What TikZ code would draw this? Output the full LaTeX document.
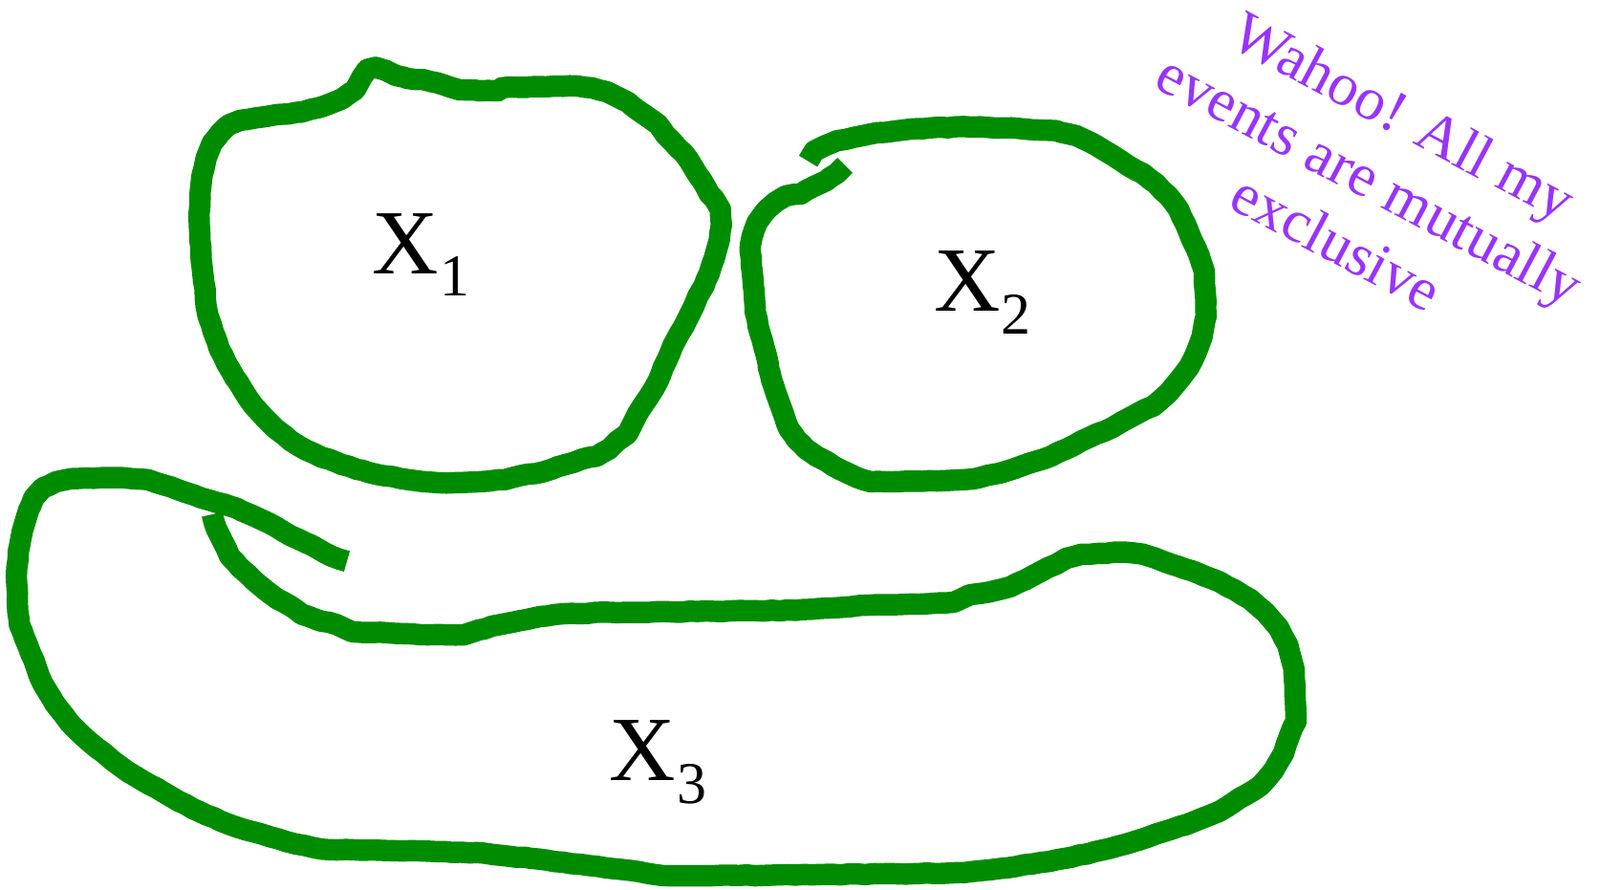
\documentclass[tikz,border=0pt]{standalone}
\usepackage{fontspec}
\setmainfont{Liberation Serif}
\usetikzlibrary{decorations.pathmorphing}
\definecolor{blobgreen}{RGB}{0,140,0}
\definecolor{wahoo}{RGB}{153,51,255}
\tikzset{
  blob/.style={draw=blobgreen, line width=21pt, line join=round, line cap=butt,
    decorate, decoration={random steps, segment length=8pt, amplitude=0.5pt}},
  setlabel/.style={anchor=base west, inner sep=0pt, font=\fontsize{90}{90}\selectfont},
  note/.style={text=wahoo, align=center, font=\fontsize{59}{70}\selectfont, rotate=-28, inner sep=0pt}
}
\newcommand{\setname}[1]{X\hspace{1pt}\raisebox{-22pt}{\fontsize{58}{58}\selectfont #1}}
\begin{document}
\begin{tikzpicture}[x=1pt,y=-1pt]
\useasboundingbox (0,0) rectangle (1568,872);
% X1
\draw[blob] (355,75) -- (360,68) -- (368,66) -- (378,69) -- (388,74) -- (400,77) -- (415,78) -- (428,81) -- (440,85) -- (450,88) -- (470,89) -- (488,89) -- (492,86) -- (520,85) -- (558,84) -- (580,86) -- (595,90) -- (605,95) -- (615,100) -- (625,108) -- (645,122) -- (652,132) -- (660,140) -- (670,150) -- (680,165) -- (688,177) -- (695,190) -- (700,195) -- (706,205) -- (707,220) -- (705,235) -- (700,253) -- (695,268) -- (690,280) -- (684,290) -- (680,300) -- (675,310) -- (670,320) -- (663,332) -- (657,345) -- (650,360) -- (645,373) -- (635,390) -- (625,405) -- (620,415) -- (615,425) -- (605,432) -- (597,440) -- (585,447) -- (570,450) -- (555,455) -- (540,460) -- (525,464) -- (510,466) -- (495,470) -- (470,472) -- (430,473) -- (400,470) -- (385,467) -- (370,465) -- (350,460) -- (330,453) -- (315,448) -- (300,441) -- (285,432) -- (270,420) -- (258,408) -- (248,397) -- (238,382) -- (230,370) -- (222,356) -- (215,342) -- (209,325) -- (204,310) -- (202,300) -- (201,283) -- (199,270) -- (197,250) -- (196,230) -- (195,210) -- (196,190) -- (198,172) -- (202,155) -- (208,140) -- (216,130) -- (225,122) -- (235,118) -- (255,115) -- (275,112) -- (295,110) -- (305,107) -- (320,103) -- (335,97) -- (348,88) -- cycle;
% X2
\draw[blob] (828,162) -- (820,170) -- (810,177) -- (797,183) -- (785,190) -- (770,192) -- (760,198) -- (750,207) -- (742,218) -- (737,232) -- (735,245) -- (737,265) -- (739,285) -- (740,305) -- (743,320) -- (747,333) -- (751,348) -- (753,360) -- (756,372) -- (760,384) -- (764,395) -- (768,406) -- (773,420) -- (780,430) -- (790,440) -- (800,447) -- (810,452) -- (823,460) -- (840,468) -- (853,472) -- (880,472) -- (910,471) -- (945,470) -- (960,468) -- (972,465) -- (985,462) -- (1000,457) -- (1015,452) -- (1030,447) -- (1045,440) -- (1060,432) -- (1075,425) -- (1090,419) -- (1100,413) -- (1115,405) -- (1130,398) -- (1145,385) -- (1155,373) -- (1165,360) -- (1172,346) -- (1178,330) -- (1182,310) -- (1181,285) -- (1180,265) -- (1175,250) -- (1168,235) -- (1162,220) -- (1155,205) -- (1145,192) -- (1133,180) -- (1120,170) -- (1105,162) -- (1090,152) -- (1075,143) -- (1055,133) -- (1035,128) -- (1000,126) -- (945,124) -- (900,126) -- (860,130) -- (845,133) -- (820,138) -- (808,143) -- (798,148) -- (792,158);
% X3
\draw[blob] (340,550) -- (325,545) -- (312,538) -- (300,532) -- (285,525) -- (270,516) -- (258,510) -- (245,504) -- (232,498) -- (220,494) -- (205,490) -- (190,485) -- (175,480) -- (160,475) -- (145,470) -- (120,468) -- (100,468) -- (70,469) -- (55,472) -- (42,478) -- (33,488) -- (28,500) -- (22,520) -- (18,540) -- (16,565) -- (17,590) -- (19,612) -- (24,625) -- (30,640) -- (36,655) -- (42,670) -- (50,683) -- (58,695) -- (68,708) -- (80,720) -- (95,733) -- (110,745) -- (125,756) -- (140,765) -- (158,775) -- (175,785) -- (195,795) -- (215,804) -- (240,813) -- (265,820) -- (290,827) -- (315,832) -- (370,833) -- (420,834) -- (475,836) -- (490,838) -- (520,841) -- (570,847) -- (610,852) -- (650,858) -- (700,858) -- (800,857) -- (900,856) -- (945,855) -- (980,851) -- (1020,845) -- (1050,840) -- (1080,833) -- (1110,825) -- (1140,815) -- (1170,805) -- (1195,795) -- (1215,782) -- (1235,770) -- (1248,755) -- (1258,738) -- (1264,720) -- (1270,707) -- (1269,680) -- (1268,655) -- (1262,632) -- (1253,615) -- (1240,600) -- (1225,587) -- (1210,578) -- (1195,570) -- (1175,562) -- (1155,555) -- (1140,550) -- (1120,543) -- (1100,541) -- (1060,543) -- (1045,547) -- (1035,553) -- (1020,560) -- (1005,568) -- (990,575) -- (970,580) -- (950,583) -- (935,590) -- (900,592) -- (850,593) -- (795,597) -- (780,598) -- (700,599) -- (600,600) -- (560,601) -- (530,604) -- (510,608) -- (490,612) -- (470,617) -- (455,622) -- (420,622) -- (380,620) -- (345,619) -- (330,612) -- (310,607) -- (296,602) -- (285,594) -- (272,587) -- (260,578) -- (248,568) -- (235,556) -- (225,545) -- (218,530) -- (212,518) -- (208,504);
% labels
\node[setlabel] (x1) at (365,268) {\setname{1}};
\node[setlabel] (x2) at (915,305) {\setname{2}};
\node[setlabel] (x3) at (597,765) {\setname{3}};
\node[note] (wahoo) at (1343,175) {Wahoo! All my\\events are mutually\\exclusive};
\end{tikzpicture}
\end{document}
